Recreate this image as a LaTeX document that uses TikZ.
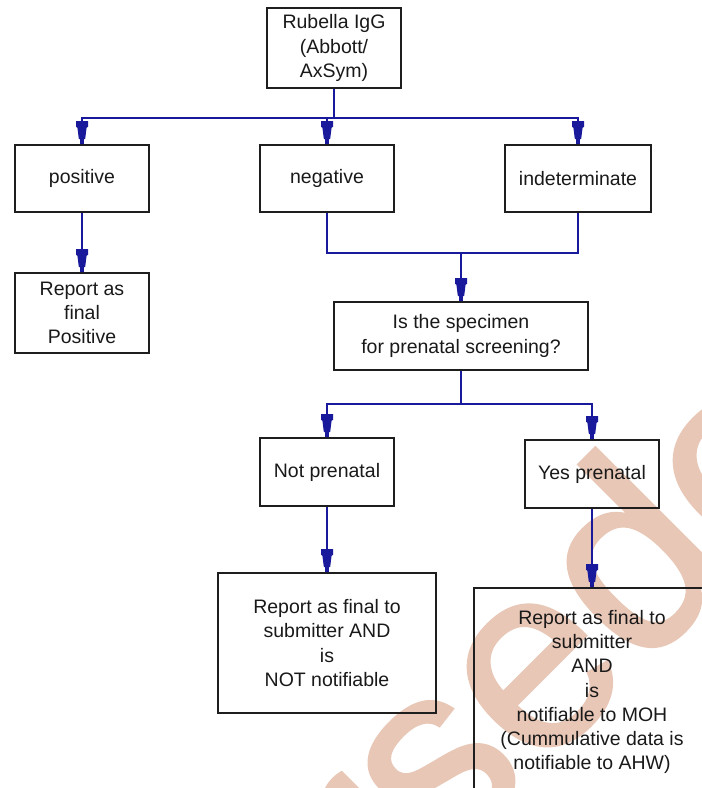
\documentclass[tikz,border=0pt]{standalone}
\usepackage{fontspec}
\setmainfont{Liberation Sans}
\newfontfamily\wmfont[FakeBold=1.3]{Liberation Sans}
\definecolor{wmcol}{RGB}{232,199,182}
\definecolor{conncol}{RGB}{25,25,155}
\definecolor{boxcol}{RGB}{30,30,30}
\pgfdeclarearrow{
  name = Bottle,
  setup code = {
    \pgfarrowssettipend{0pt}
    \pgfarrowssetlineend{-4pt}
    \pgfarrowssetbackend{-23pt}
    \pgfarrowssetvisualbackend{-23pt}
    \pgfarrowshullpoint{0pt}{1.8pt}
    \pgfarrowshullpoint{0pt}{-1.8pt}
    \pgfarrowshullpoint{-23pt}{6pt}
    \pgfarrowshullpoint{-23pt}{-6pt}
  },
  drawing code = {
    \pgfpathmoveto{\pgfqpoint{0pt}{1.8pt}}
    \pgfpathlineto{\pgfqpoint{-4.7pt}{1.8pt}}
    \pgfpathlineto{\pgfqpoint{-5.5pt}{3.2pt}}
    \pgfpathlineto{\pgfqpoint{-16.5pt}{4.6pt}}
    \pgfpathlineto{\pgfqpoint{-17.3pt}{6pt}}
    \pgfpathlineto{\pgfqpoint{-23pt}{6pt}}
    \pgfpathlineto{\pgfqpoint{-23pt}{-6pt}}
    \pgfpathlineto{\pgfqpoint{-17.3pt}{-6pt}}
    \pgfpathlineto{\pgfqpoint{-16.5pt}{-4.6pt}}
    \pgfpathlineto{\pgfqpoint{-5.5pt}{-3.2pt}}
    \pgfpathlineto{\pgfqpoint{-4.7pt}{-1.8pt}}
    \pgfpathlineto{\pgfqpoint{0pt}{-1.8pt}}
    \pgfpathclose
    \pgfusepathqfill
  }
}
\begin{document}
\begin{tikzpicture}[x=1pt,y=-1pt,
  box/.style={draw=boxcol, line width=1.7pt, align=center, inner sep=0pt,
    font=\fontsize{19.5}{24.3}\selectfont, text=black!90},
  conn/.style={draw=conncol, line width=2pt},
  arr/.style={conn, -Bottle}
]
\useasboundingbox (0,0) rectangle (702,788);
\clip (0,0) rectangle (702,788);
% watermark
\node[anchor=base west, rotate=45, inner sep=0pt, text=wmcol,
  font=\wmfont\fontsize{262}{300}\selectfont] (wm) at (-51,1363) {Superseded};
% boxes
\node[box, minimum width=134, minimum height=80] (top) at (334,48) {Rubella IgG\\(Abbott/\\AxSym)};
\node[box, minimum width=134, minimum height=67] (pos) at (82,178.5) {positive};
\node[box, minimum width=134, minimum height=67] (neg) at (327,178.5) {negative};
\node[box, minimum width=146, minimum height=67] (ind) at (578,178.5) {indeterminate};
\node[box, minimum width=134, minimum height=80] (rpos) at (82,313) {Report as\\final\\Positive};
\node[box, minimum width=254, minimum height=68] (q) at (461,336) {Is the specimen\\for prenatal screening?};
\node[box, minimum width=134, minimum height=68] (notp) at (327,472) {Not prenatal};
\node[box, minimum width=134, minimum height=68] (yesp) at (592,474) {Yes prenatal};
\node[box, minimum width=218, minimum height=140] (rnot) at (327,643) {Report as final to\\submitter AND\\is\\NOT notifiable};
\node[box, minimum width=236, minimum height=208] (ryes) at (592,692) {Report as final to\\submitter\\AND\\is\\notifiable to MOH\\(Cummulative data is\\notifiable to AHW)};
% connectors
\coordinate (b1) at (334,118);
\draw[conn] (top.south) -- (b1);
\draw[arr] (b1) -| (pos.north);
\draw[arr] (b1) -| (ind.north);
\draw[arr] (b1 -| neg.north) -- (neg.north);
\draw[arr] (pos.south) -- (rpos.north);
\coordinate (b2) at (461,253);
\draw[conn] (neg.south) |- (b2) -| (ind.south);
\draw[arr] (b2) -- (q.north);
\coordinate (b3) at (461,404);
\draw[conn] (q.south) -- (b3);
\draw[arr] (b3) -| (notp.north);
\draw[arr] (b3) -| (yesp.north);
\draw[arr] (notp.south) -- (rnot.north);
\draw[arr] (yesp.south) -- (ryes.north);
\end{tikzpicture}
\end{document}
